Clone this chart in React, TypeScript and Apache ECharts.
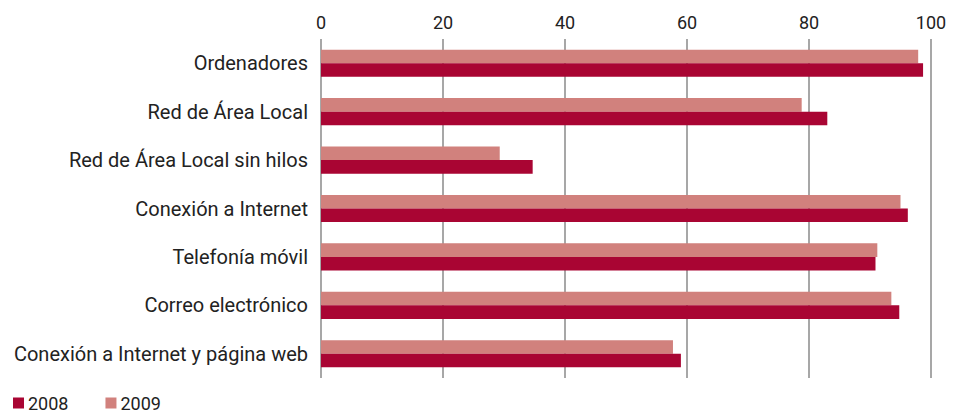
import React, { useEffect, useRef } from "react";
import * as echarts from "echarts";

const categories = [
  "Ordenadores",
  "Red de Área Local",
  "Red de Área Local sin hilos",
  "Conexión a Internet",
  "Telefonía móvil",
  "Correo electrónico",
  "Conexión a Internet y página web",
];
const values2009 = [97.9, 78.8, 29.3, 95.0, 91.2, 93.5, 57.7];
const values2008 = [98.7, 83.0, 34.7, 96.2, 90.9, 94.8, 59.0];
const legendLabels = ["2008", "2009"];

const FONT = "'Roboto', 'Liberation Sans', sans-serif";

export default function App() {
  const ref = useRef<HTMLDivElement>(null);
  useEffect(() => {
    document.body.style.margin = "0";
    const chart = echarts.init(ref.current!, null, { renderer: "svg" });
    chart.setOption({
      animation: false,
      textStyle: { fontFamily: FONT },
      grid: { left: 321, right: 35, top: 39, bottom: 34 },
      legend: {
        data: legendLabels,
        left: 13,
        top: 394,
        padding: 0,
        itemWidth: 11,
        itemHeight: 11,
        itemGap: 37,
        icon: "rect",
        textStyle: { fontSize: 18, color: "#222", fontFamily: FONT, padding: [0, 0, 0, -1] },
      },
      xAxis: {
        type: "value",
        position: "top",
        min: 0,
        max: 100,
        interval: 20,
        axisLine: { show: false },
        axisTick: { show: false },
        axisLabel: { fontSize: 18, color: "#222", margin: 8, fontFamily: FONT },
        splitLine: { show: true, lineStyle: { color: "#8a8a8a", width: 1.5 } },
      },
      yAxis: {
        type: "category",
        data: categories,
        inverse: true,
        axisLine: { show: false },
        axisTick: { show: false },
        axisLabel: { fontSize: 20, color: "#222", margin: 13, fontFamily: FONT },
      },
      series: [
        {
          name: "2009",
          type: "bar",
          data: values2009,
          itemStyle: { color: "#D1817D" },
          barGap: "0%",
          barCategoryGap: "44%",
        },
        {
          name: "2008",
          type: "bar",
          data: values2008,
          itemStyle: { color: "#A90533" },
          barGap: "0%",
          barCategoryGap: "44%",
        },
      ],
    });
    return () => chart.dispose();
  }, []);
  return <div ref={ref} style={{ width: 966, height: 412 }} />;
}
